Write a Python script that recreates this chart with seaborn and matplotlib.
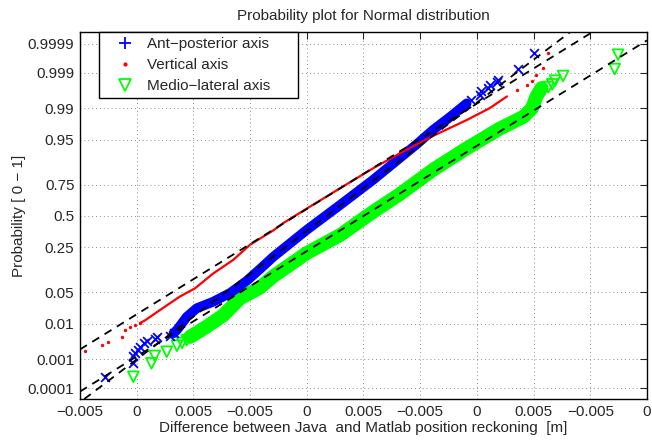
import matplotlib
matplotlib.use("Agg")
import matplotlib.pyplot as plt
from matplotlib.lines import Line2D
import seaborn as sns
from statistics import NormalDist

# ================================================
# DATA  (x in tick-slot units 0..10, y as normal quantile z)
# ================================================
x_tick_labels = ['−0.005', '0', '0.005', '−0.005', '0', '0.005',
                 '−0.005', '0', '0.005', '−0.005', '0']
prob_ticks = [0.0001, 0.001, 0.01, 0.05, 0.25, 0.5, 0.75, 0.95, 0.99, 0.999, 0.9999]
prob_labels = ['0.0001', '0.001', '0.01', '0.05', '0.25', '0.5', '0.75',
               '0.95', '0.99', '0.999', '0.9999']

# Ant-posterior axis (blue)
ap_lo_x = [0.44, 0.94, 0.93, 0.97, 1.03, 1.06, 1.12, 1.18, 1.32, 1.35, 1.59, 1.65]
ap_lo_z = [-3.47, -3.18, -3.03, -2.95, -2.89, -2.82, -2.74, -2.70, -2.65, -2.62, -2.58, -2.53]
ap_band_x = [1.65, 1.71, 1.82, 1.88, 2.06, 2.35, 2.65, 2.94, 3.17, 3.41, 4.00,
             4.59, 5.17, 5.64, 5.94, 6.23, 6.53, 6.82]
ap_band_z = [-2.53, -2.46, -2.28, -2.18, -1.99, -1.85, -1.66, -1.40, -1.15, -0.88, -0.30,
             0.24, 0.78, 1.25, 1.55, 1.86, 2.14, 2.43]
ap_hi_x = [6.90, 7.05, 7.08, 7.20, 7.23, 7.35, 7.38, 7.73, 8.00]
ap_hi_z = [2.50, 2.61, 2.69, 2.76, 2.83, 2.90, 2.94, 3.17, 3.51]

# Vertical axis (red)
v_lo_x = [0.09, 0.38, 0.50, 0.74, 0.79, 0.88, 0.97, 1.06]
v_lo_z = [-2.91, -2.79, -2.71, -2.62, -2.46, -2.39, -2.36, -2.31]
v_band_x = [1.06, 1.15, 1.41, 1.76, 2.03, 2.35, 2.70, 3.00, 3.41, 3.59, 4.00,
            4.59, 5.17, 5.76, 6.23, 6.82, 7.23, 7.53]
v_band_z = [-2.31, -2.25, -2.03, -1.74, -1.56, -1.24, -0.95, -0.62, -0.31, -0.15, 0.16,
            0.60, 1.03, 1.43, 1.73, 2.07, 2.33, 2.58]
v_hi_x = [7.70, 7.88, 7.97, 8.05, 8.17, 8.26]
v_hi_z = [2.72, 2.83, 2.92, 3.05, 3.19, 3.51]

# Medio-lateral axis (green)
ml_lo_x = [0.94, 1.26, 1.32, 1.53, 1.71, 1.80, 1.88]
ml_lo_z = [-3.47, -3.18, -3.02, -2.93, -2.80, -2.74, -2.68]
ml_band_x = [1.94, 2.23, 2.53, 2.82, 3.17, 3.41, 4.00, 4.59, 5.17, 5.64, 6.23,
             6.82, 7.41, 7.82, 7.97, 8.05, 8.14]
ml_band_z = [-2.61, -2.39, -2.14, -1.78, -1.55, -1.30, -0.80, -0.41, 0.09, 0.47, 1.00,
             1.46, 1.89, 2.14, 2.32, 2.58, 2.76]
ml_hi_x = [8.26, 8.33, 8.38, 8.52, 9.43, 9.49]
ml_hi_z = [2.78, 2.84, 2.92, 3.02, 3.17, 3.48]

# reference lines: x at the 25% and 75% quantiles
fit_q25 = {'ap': 3.62, 'v': 2.91, 'ml': 4.11}
fit_q75 = {'ap': 5.08, 'v': 4.69, 'ml': 5.89}

BLUE, RED, GREEN = '#0000ff', '#ff0000', '#00ff00'

# ================================================
# PLOT
# ================================================
sns.set_style("white")
plt.rcParams['font.family'] = ['Liberation Sans', 'DejaVu Sans']
plt.rcParams['font.size'] = 11

fig = plt.figure(figsize=(6.52, 4.41), dpi=100)
ax = fig.add_axes([0.1227, 0.0952, 0.8696, 0.8322])

# green
sns.lineplot(x=ml_band_x, y=ml_band_z, sort=False, estimator=None, color=GREEN,
             lw=10, solid_capstyle='round', ax=ax)
sns.scatterplot(x=ml_lo_x + ml_hi_x, y=ml_lo_z + ml_hi_z, marker='v', s=60,
                facecolor='none', edgecolor=GREEN, linewidth=1.3, ax=ax)
# blue
sns.lineplot(x=ap_band_x, y=ap_band_z, sort=False, estimator=None, color=BLUE,
             lw=7, solid_capstyle='round', ax=ax)
sns.scatterplot(x=ap_lo_x + ap_hi_x, y=ap_lo_z + ap_hi_z, marker='x', s=40,
                color=BLUE, edgecolor=BLUE, linewidth=1.3, ax=ax)
# red
sns.lineplot(x=v_band_x, y=v_band_z, sort=False, estimator=None, color=RED,
             lw=1.6, ax=ax)
sns.scatterplot(x=v_lo_x + v_hi_x, y=v_lo_z + v_hi_z, marker='o', s=6,
                color=RED, edgecolor=RED, linewidth=0, ax=ax)

# fitted reference lines
z25, z75 = NormalDist().inv_cdf(0.25), NormalDist().inv_cdf(0.75)
for key in ['ap', 'v', 'ml']:
    ax.axline((fit_q25[key], z25), (fit_q75[key], z75), color='k', lw=1.3,
              ls=(0, (4.5, 3.5)), zorder=5)

ax.set_xlim(0, 10)
ax.set_ylim(-3.95, 3.97)
ax.set_xticks(range(11))
ax.set_xticklabels(x_tick_labels)
ax.set_yticks([NormalDist().inv_cdf(p) for p in prob_ticks])
ax.set_yticklabels(prob_labels)
ax.tick_params(direction='in', length=5, width=0.8, top=True, right=True,
               labelsize=11, pad=4)
ax.grid(True, ls=(0, (1, 3)), color='0.55', lw=0.7)
for s in ax.spines.values():
    s.set_color('k')
    s.set_linewidth(1.0)

ax.set_title('Probability plot for Normal distribution', fontsize=11, pad=9)
ax.set_xlabel('Difference between Java  and Matlab position reckoning  [m]', labelpad=2)
ax.set_ylabel('Probability [ 0 − 1]', labelpad=1)

handles = [Line2D([], [], ls='none', marker='+', color=BLUE, ms=8, mew=1.3),
           Line2D([], [], ls='none', marker='.', color=RED, ms=4),
           Line2D([], [], ls='none', marker='v', color=GREEN, mfc='none', ms=9, mew=1.3)]
leg = ax.legend(handles, ['Ant−posterior axis', 'Vertical axis', 'Medio−lateral axis'],
                loc='upper left', bbox_to_anchor=(0.0335, 0.8174, 0.351, 0.1826),
                mode='expand', borderaxespad=0, fancybox=False, framealpha=1,
                edgecolor='k', handlelength=2.7, handletextpad=0.1,
                borderpad=0.35, labelspacing=0.45, fontsize=11)
leg.get_frame().set_linewidth(1.0)

fig.savefig('out.png', dpi=100)
